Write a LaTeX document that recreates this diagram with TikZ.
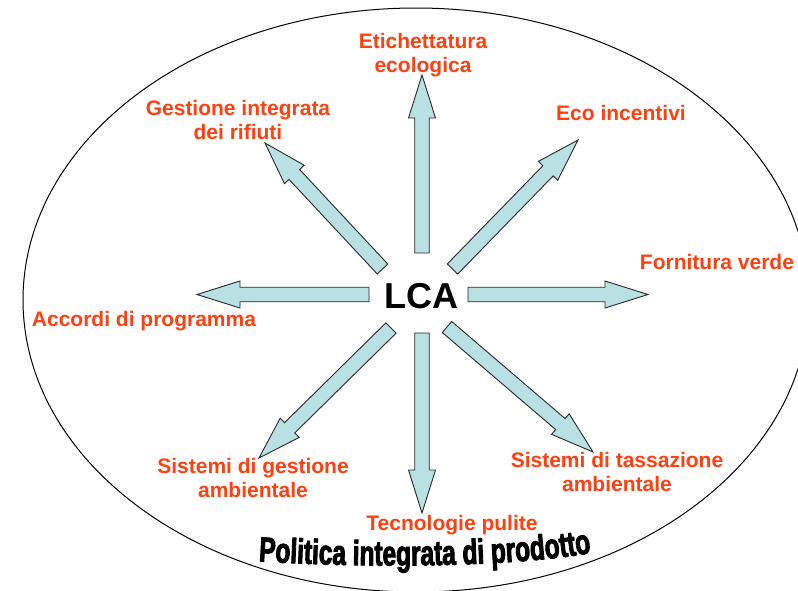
\documentclass[tikz,border=0pt]{standalone}
\usepackage{fontspec}
\setmainfont{Liberation Sans}
\newfontfamily\wordart{Liberation Sans}[FakeStretch=0.7,FakeBold=2.5]
\usetikzlibrary{calc,decorations.text}
\definecolor{lblorange}{RGB}{255,64,16}
\definecolor{arrowfill}{RGB}{185,224,226}
\definecolor{arrowline}{RGB}{40,40,40}
\tikzset{
  lbl/.style={text=lblorange, font=\bfseries\fontsize{21}{24}\selectfont, align=center, anchor=north, inner sep=0pt},
  centre/.style={text=black, font=\bfseries\fontsize{36}{36}\selectfont, anchor=base, inner sep=0pt},
  barrow/.style={fill=arrowfill, draw=arrowline, line width=0.9pt, line join=miter},
  ring/.style={draw=black, line width=1pt}
}
% #1 tail, #2 tip, #3 name for head base
\newcommand{\blockarrow}[3]{%
  \coordinate (#3) at ($(#2)!43pt!(#1)$);
  \draw[barrow] ($(#1)!7.25pt!90:(#2)$) -- ($(#3)!7.25pt!90:(#2)$) -- ($(#3)!13.5pt!90:(#2)$)
    -- (#2) -- ($(#3)!13.5pt!-90:(#2)$) -- ($(#3)!7.25pt!-90:(#2)$) -- ($(#1)!7.25pt!-90:(#2)$) -- cycle;
}
\begin{document}
\begin{tikzpicture}[x=1pt,y=-1pt]
\useasboundingbox (0,0) rectangle (798,590);
\clip (0,0) rectangle (798,590);
\fill[white] (0,0) rectangle (798,590);
\draw[ring] (416,300) ellipse [x radius=393, y radius=292];

% arrow ends
\coordinate (t1) at (422,253);   \coordinate (p1) at (422,75);
\coordinate (t2) at (452.5,269); \coordinate (p2) at (578,140);
\coordinate (t3) at (468,294.5); \coordinate (p3) at (648,294.5);
\coordinate (t4) at (369,294.5); \coordinate (p4) at (197,294.5);
\coordinate (t5) at (382.5,269); \coordinate (p5) at (265,143);
\coordinate (t6) at (391,328);   \coordinate (p6) at (259,458);
\coordinate (t7) at (422,333);   \coordinate (p7) at (422,513);
\coordinate (t8) at (447,327);   \coordinate (p8) at (593,452);

\blockarrow{t1}{p1}{h1}
\blockarrow{t2}{p2}{h2}
\blockarrow{t3}{p3}{h3}
\blockarrow{t4}{p4}{h4}
\blockarrow{t5}{p5}{h5}
\blockarrow{t6}{p6}{h6}
\blockarrow{t7}{p7}{h7}
\blockarrow{t8}{p8}{h8}

\node[centre] (lca) at (421.5,308) {LCA};

\node[lbl] (etich) at (423,33) {Etichettatura\\ecologica};
\node[lbl] (gest) at (238,100) {Gestione integrata\\dei rifiuti};
\node[lbl] (eco) at (621,105) {Eco incentivi};
\node[lbl] (forn) at (717,254) {Fornitura verde};
\node[lbl] (acc) at (144,311) {Accordi di programma};
\node[lbl] (sga) at (253,458) {Sistemi di gestione\\ambientale};
\node[lbl] (tec) at (452,515) {Tecnologie pulite};
\node[lbl] (sta) at (617,452) {Sistemi di tassazione\\ambientale};

\path[decorate, decoration={text along path, text align=center,
  text={|\wordart\bfseries\fontsize{35}{35}\selectfont|Politica integrata di prodotto}}]
  (254,561) .. controls (360,568) and (512,568) .. (596,552);
\end{tikzpicture}
\end{document}
